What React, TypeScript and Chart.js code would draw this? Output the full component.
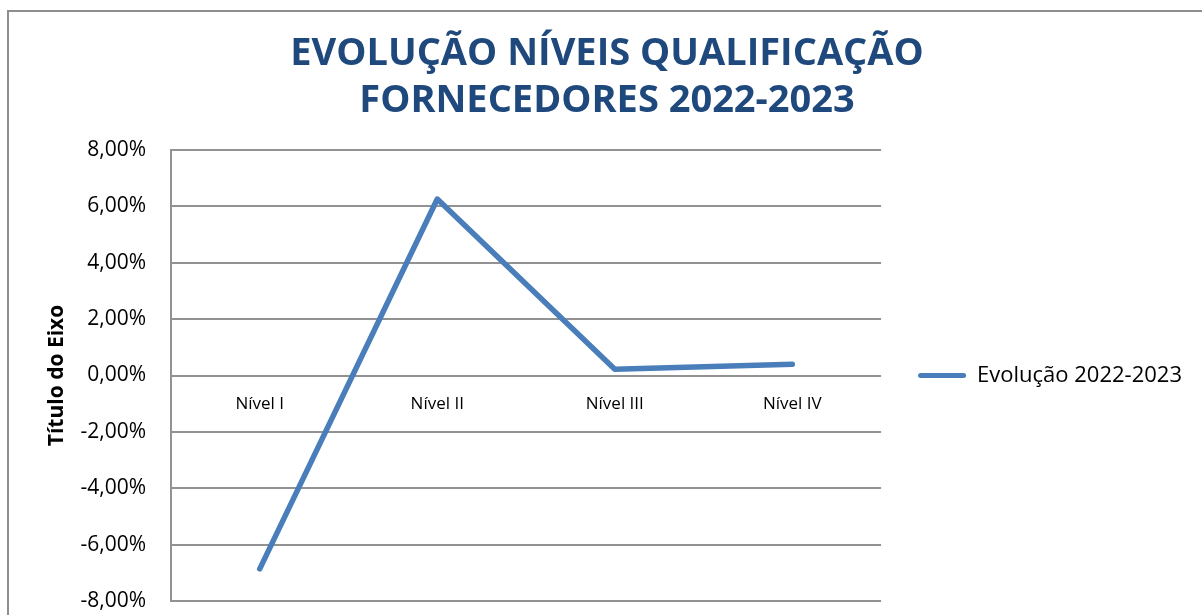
import React, { useEffect, useRef } from "react";
import { Chart, registerables } from "chart.js";

Chart.register(...registerables);

const categories = ["Nível I", "Nível II", "Nível III", "Nível IV"];
const seriesName = "Evolução 2022-2023";
const seriesValues = [-6.86, 6.26, 0.22, 0.4];
const titleLines = ["EVOLUÇÃO NÍVEIS QUALIFICAÇÃO", "FORNECEDORES 2022-2023"];
const axisTitle = "Título do Eixo";
const yMin = -8;
const yMax = 8;
const yStep = 2;

const LINE_COLOR = "#4A7EBB";
const GRID_COLOR = "#929292";
const TITLE_COLOR = "#1F497D";
const FONT = "'Open Sans', 'DejaVu Sans', sans-serif";

const frame = {
  id: "frame",
  beforeDraw(chart: any) {
    const ctx = chart.ctx;
    ctx.save();
    ctx.fillStyle = "#ffffff";
    ctx.fillRect(0, 0, chart.width, chart.height);
    ctx.strokeStyle = "#8e8e8e";
    ctx.lineWidth = 2;
    ctx.strokeRect(8, 11, 3000, 3000);
    ctx.restore();
  },
};

// let the legend take the width its label needs (not capped to a quarter of the canvas)
const legendWidthFix = {
  id: "legendWidthFix",
  beforeLayout(chart: any) {
    const lg = chart.legend;
    if (lg && !lg.__widthFixed) {
      const orig = lg.fit;
      lg.fit = function (this: any) {
        this.maxWidth = 2000;
        orig.call(this);
      };
      lg.__widthFixed = true;
    }
  },
};

// Category labels sit just below the zero line, placed with the library's scales
const zeroAxisLabels = {
  id: "zeroAxisLabels",
  afterDraw(chart: any) {
    const ctx = chart.ctx;
    const xs = chart.scales.x;
    const ys = chart.scales.y;
    const y0 = ys.getPixelForValue(0);
    ctx.save();
    ctx.fillStyle = "#000";
    ctx.font = `17px ${FONT}`;
    ctx.textAlign = "center";
    ctx.textBaseline = "middle";
    categories.forEach((c, i) => {
      ctx.fillText(c, xs.getPixelForValue(i), y0 + 29);
    });
    ctx.restore();
  },
};

export default function App() {
  const ref = useRef<HTMLCanvasElement | null>(null);
  useEffect(() => {
    if (!ref.current) return;
    const chart = new Chart(ref.current, {
      type: "line",
      data: {
        labels: categories,
        datasets: [
          {
            label: seriesName,
            data: seriesValues,
            borderColor: LINE_COLOR,
            backgroundColor: LINE_COLOR,
            borderWidth: 5.5,
            borderCapStyle: "round",
            borderJoinStyle: "round",
            pointRadius: 0,
            pointHoverRadius: 0,
            tension: 0,
            fill: false,
          },
        ],
      },
      options: {
        animation: false,
        responsive: false,
        devicePixelRatio: 1,
        layout: { padding: { left: 22, right: 10, top: 0, bottom: 14 } },
        plugins: {
          tooltip: { enabled: false },
          title: {
            display: true,
            text: titleLines,
            color: TITLE_COLOR,
            font: { family: FONT, size: 38, weight: "bold", lineHeight: 47 / 38 },
            padding: { top: 31, bottom: 25 },
          },
          legend: {
            display: true,
            position: "right",
            align: "center",
            fullSize: false,
            labels: {
              color: "#000",
              font: { family: FONT, size: 22 },
              boxWidth: 48,
              boxHeight: 5,
              padding: 37,
              generateLabels: () => [
                {
                  text: seriesName,
                  fillStyle: LINE_COLOR,
                  strokeStyle: LINE_COLOR,
                  lineWidth: 0,
                  hidden: false,
                  datasetIndex: 0,
                  borderRadius: 2.5,
                } as any,
              ],
            },
          },
        },
        scales: {
          x: {
            type: "category",
            display: false,
            offset: true,
            grid: { display: false },
          },
          y: {
            type: "linear",
            position: "left",
            min: yMin,
            max: yMax,
            grid: { color: GRID_COLOR, lineWidth: 2, drawTicks: false },
            border: { display: true, color: GRID_COLOR, width: 2 },
            ticks: {
              stepSize: yStep,
              color: "#000",
              font: { family: FONT, size: 21 },
              padding: 25,
              callback: (v: any) => Number(v).toFixed(2).replace(".", ",") + "%",
            },
            title: {
              display: true,
              text: axisTitle,
              color: "#000",
              font: { family: FONT, size: 21, weight: "bold" },
              padding: { top: 22, bottom: 0 },
            },
            afterFit: (scale: any) => {
              scale.width = 149;
              scale.paddingTop = 0;
              scale.paddingBottom = 0;
            },
          },
        },
      },
      plugins: [frame, legendWidthFix, zeroAxisLabels],
    });
    return () => chart.destroy();
  }, []);
  return (
    <div style={{ position: "absolute", left: 0, top: 0, width: 1202, height: 615 }}>
      <canvas ref={ref} width={1202} height={615} style={{ width: 1202, height: 615, display: "block" }} />
    </div>
  );
}
